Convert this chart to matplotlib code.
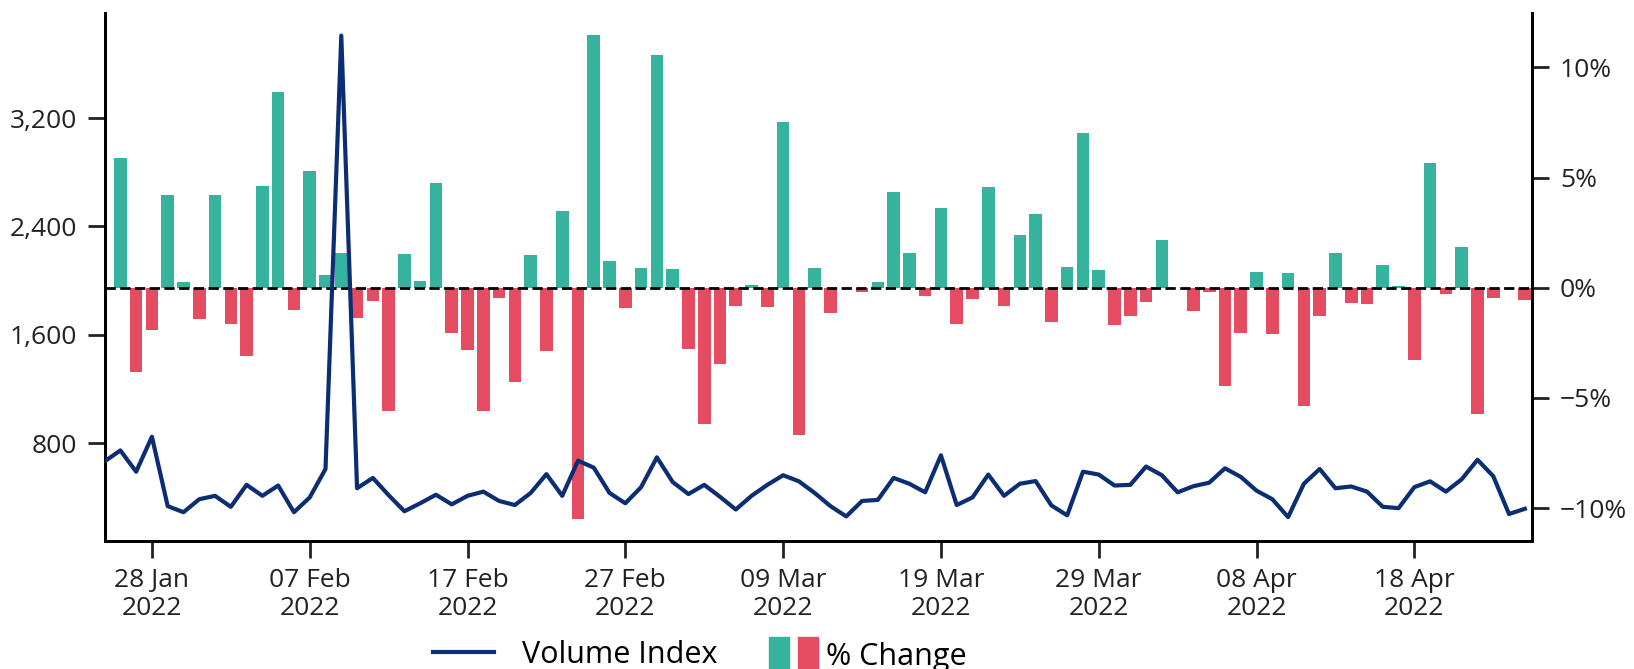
import numpy as np
import pandas as pd
import matplotlib
matplotlib.use('Agg')
import matplotlib.pyplot as plt
import matplotlib.dates as mdates
from matplotlib.patches import Patch
from matplotlib.lines import Line2D
from matplotlib.legend_handler import HandlerTuple
from matplotlib.ticker import FuncFormatter

plt.rcParams['font.family'] = ['Open Sans', 'DejaVu Sans']

# daily data, 25 Jan 2022 .. 25 Apr 2022
dates = pd.date_range('2022-01-25', '2022-04-25', freq='D')

volume_index = [
    666, 747, 590, 848, 336, 291, 387, 412, 331, 493,
    412, 488, 291, 400, 610, 3808, 468, 544, 417, 298,
    357, 420, 349, 412, 443, 374, 344, 433, 572, 412,
    671, 620, 433, 357, 476, 696, 514, 425, 493, 405,
    311, 412, 493, 564, 519, 433, 336, 260, 374, 382,
    544, 501, 438, 711, 344, 400, 569, 412, 501, 521,
    341, 268, 590, 569, 488, 493, 628, 564, 438, 483,
    509, 615, 552, 450, 387, 255, 501, 610, 468, 481,
    443, 331, 321, 476, 519, 443, 534, 678, 557, 278,
    316,
]

pct_change = [
    np.nan, 5.89, -3.81, -1.93, 4.22, 0.28, -1.41, 4.22, -1.63, -3.09,
    4.63, 8.90, -0.99, 5.31, 0.60, 1.57, -1.38, -0.60, -5.57, 1.51,
    0.31, 4.74, -2.07, -2.81, -5.60, -0.46, -4.29, 1.49, -2.86, 3.50,
    -10.49, 11.46, 1.21, -0.91, 0.88, 10.57, 0.83, -2.78, -6.17, -3.45,
    -0.82, 0.11, -0.86, 7.54, -6.67, 0.91, -1.15, 0.0, -0.20, 0.27,
    4.35, 1.60, -0.39, 3.63, -1.66, -0.53, 4.58, -0.82, 2.40, 3.34,
    -1.57, 0.94, 7.00, 0.80, -1.70, -1.29, -0.63, 2.18, 0.0, -1.05,
    -0.20, -4.44, -2.07, 0.72, -2.09, 0.69, -5.38, -1.29, 1.57, -0.71,
    -0.75, 1.05, 0.08, -3.30, 5.67, -0.28, 1.85, -5.73, -0.46, 0.0,
    -0.57,
]

tick_dates = pd.date_range('2022-01-28', periods=9, freq='10D')

green = '#36b39e'
red = '#e54c61'
navy = '#0b2d72'

fig = plt.figure(figsize=(16.34, 6.69), dpi=100)
ax = fig.add_axes([0.064, 0.191, 0.8736, 0.79])

pct = np.array(pct_change)
colors = [green if v >= 0 else red for v in np.nan_to_num(pct)]
ax.bar(dates, np.nan_to_num(pct), width=0.8, color=colors, zorder=2)
ax.axhline(0, color='black', ls='--', lw=2, zorder=3)
ax.set_ylim(-11.5, 12.48)
ax.set_yticks([-10, -5, 0, 5, 10])
ax.yaxis.set_major_formatter(FuncFormatter(
    lambda v, p: ('\u2212%d%%' % abs(v)) if v < 0 else '%d%%' % v))

ax2 = ax.twinx()
ax2.plot(dates, volume_index, color=navy, lw=3, zorder=4)
ax2.set_ylim(77, 3977)
ax2.set_yticks([800, 1600, 2400, 3200])
ax2.yaxis.set_major_formatter(FuncFormatter(lambda v, p: '{:,.0f}'.format(v)))
ax2.yaxis.tick_left()
ax.yaxis.tick_right()

ax.set_xlim(dates[0], dates[-1] + pd.Timedelta(hours=11))
ax.set_xticks(tick_dates)
ax.xaxis.set_major_formatter(mdates.DateFormatter('%d %b\n%Y'))

for a in (ax, ax2):
    a.spines['top'].set_visible(False)
    for s in ('left', 'right', 'bottom'):
        a.spines[s].set_linewidth(2)
    a.tick_params(axis='both', length=12, width=2, labelsize=19, pad=8,
                  colors='#222222')
ax.tick_params(axis='x', pad=7)

fig.legend(handles=[Line2D([], [], color=navy, lw=3)], labels=['Volume Index'],
           loc='center', bbox_to_anchor=(0.352, 0.021), frameon=False,
           fontsize=22, handlelength=2.0, handletextpad=0.9)
fig.legend(handles=[(Patch(color=green), Patch(color=red))], labels=['% Change'],
           loc='center', bbox_to_anchor=(0.531, 0.021), frameon=False,
           fontsize=22, handlelength=1.6, handleheight=1.4, handletextpad=0.25,
           handler_map={tuple: HandlerTuple(ndivide=None, pad=0.3)})

fig.savefig('out.png', dpi=100)
